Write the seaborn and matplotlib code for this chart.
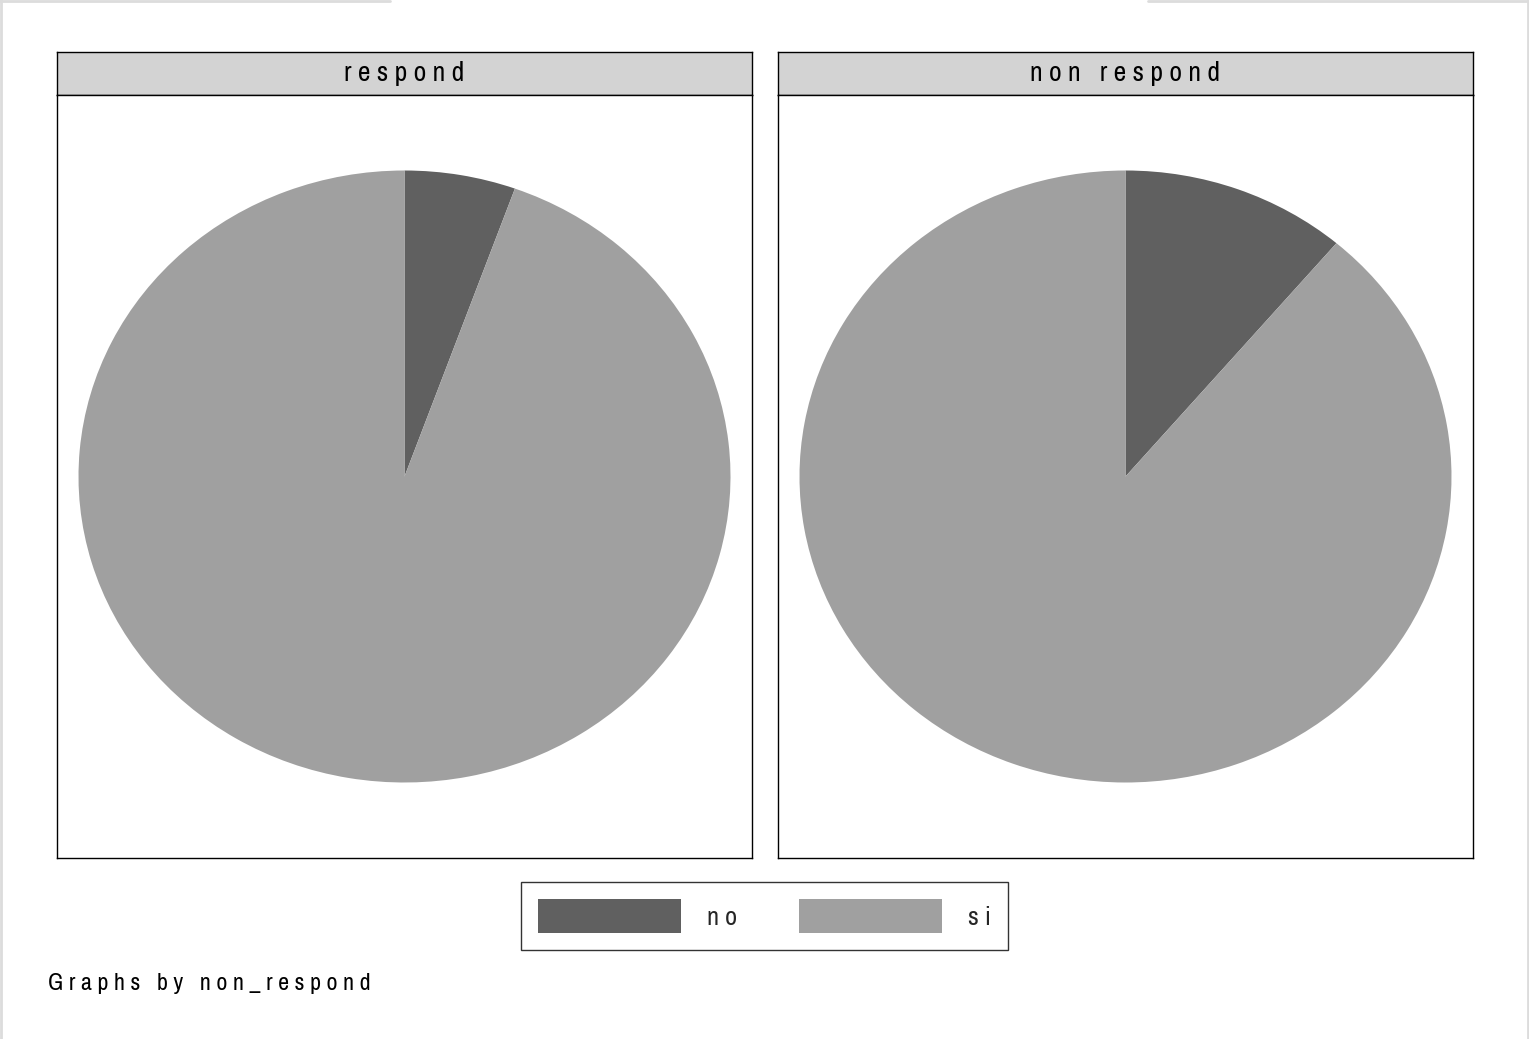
import matplotlib.pyplot as plt
import seaborn as sns
from matplotlib import font_manager as fm
from matplotlib.lines import Line2D
from matplotlib.patches import Patch

# ── Data ─────────────────────────────────────────────
panels = ["respond", "non respond"]
categories = ["no", "si"]
respond_pct = [5.5, 94.5]
non_respond_pct = [11.2, 88.8]
footnote = "Graphs by non_respond"

# ── Style ────────────────────────────────────────────
sns.set_theme(style="white")
plt.rcParams["font.family"] = ["Liberation Sans", "DejaVu Sans"]
colors = ["#606060", "#a0a0a0"]

# look for a narrow / condensed face (Stata's text is condensed)
narrow = None
for f in fm.fontManager.ttflist:
    if "Narrow" in f.name and f.style == "normal" and f.weight in (400, "normal"):
        narrow = f.fname
        break
if narrow is None:
    for f in fm.fontManager.ttflist:
        if f.stretch == "condensed" and f.style == "normal" and f.weight in (400, "normal") \
                and "Sans" in f.name and "Mono" not in f.name:
            narrow = f.fname
            break


def make_prop(size):
    if narrow:
        return fm.FontProperties(fname=narrow, size=size)
    return fm.FontProperties(family=["Liberation Sans", "DejaVu Sans"], size=size * 0.85)


head_prop = make_prop(20)
leg_size = 19
leg_prop = make_prop(leg_size)
foot_prop = make_prop(17.3)
fpx = leg_prop.get_size_in_points() * 100 / 72  # legend font size in pixels

W, H = 1529, 1039
fig = plt.figure(figsize=(W / 100, H / 100), dpi=100)


def spaced(s):
    return " ".join(s)


def px_axes(x0, y0, x1, y1):
    return fig.add_axes([x0 / W, 1 - y1 / H, (x1 - x0) / W, (y1 - y0) / H])


def frame(a):
    a.set_frame_on(True)
    a.set_xticks([])
    a.set_yticks([])
    for sp in a.spines.values():
        sp.set_visible(True)
        sp.set_color("black")
        sp.set_linewidth(1.0)


panel_x = [(57, 752), (778, 1473)]
for (x0, x1), title, vals in zip(panel_x, panels, [respond_pct, non_respond_pct]):
    # header strip
    hax = px_axes(x0, 52, x1, 95)
    hax.set_facecolor("#d3d3d3")
    frame(hax)
    hax.text(0.5, 0.5, spaced(title), ha="center", va="center",
             fontproperties=head_prop, color="black", transform=hax.transAxes)

    # pie panel
    ax = px_axes(x0, 95, x1, 858)
    ax.pie(vals, colors=colors, startangle=90, counterclock=False,
           wedgeprops=dict(linewidth=0))
    ax.set_aspect("auto")
    hx = (x1 - x0) / 2 / 326
    hy = (858 - 95) / 2 / 306
    ax.set_xlim(-hx, hx)
    ax.set_ylim(-hy, hy)
    ax.set_axis_on()
    frame(ax)

# ── Legend ───────────────────────────────────────────
handles = [Patch(facecolor=c, edgecolor="none") for c in colors]
leg = fig.legend(handles, [spaced(c) for c in categories], ncol=2,
                 loc="center", bbox_to_anchor=(764.5 / W, 1 - 916 / H),
                 prop=leg_prop, handlelength=143 / fpx,
                 handleheight=35 / fpx + 0.3,
                 handletextpad=26 / fpx,
                 columnspacing=62 / fpx,
                 borderpad=17 / fpx, frameon=True, fancybox=False, edgecolor="black")
leg.get_frame().set_linewidth(1.0)

fig.text(48 / W, 1 - 984 / H, spaced(footnote), ha="left", va="center",
         fontproperties=foot_prop, color="black")

# faint outer border remnants
fig.add_artist(Line2D([0, 390 / W], [1 - 1 / H, 1 - 1 / H], color="#dcdcdc", lw=2))
fig.add_artist(Line2D([1148 / W, 1], [1 - 1 / H, 1 - 1 / H], color="#dcdcdc", lw=2))
fig.add_artist(Line2D([1 / W, 1 / W], [0, 1], color="#dcdcdc", lw=2))
fig.add_artist(Line2D([1 - 1 / W, 1 - 1 / W], [0, 1], color="#dcdcdc", lw=2))

fig.savefig("out.png", dpi=100)
